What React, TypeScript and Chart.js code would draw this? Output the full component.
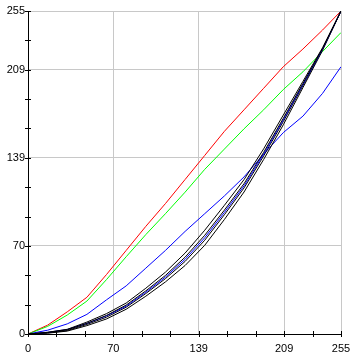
import React, { useEffect, useRef } from "react";
import { Chart, registerables } from "chart.js";

Chart.register(...registerables);

const xs = [0, 16, 32, 48, 64, 80, 96, 112, 128, 144, 160, 176, 192, 208, 224, 240, 255];
const redCurve = [0, 7, 17.5, 29, 47, 66, 85, 103, 122, 141, 160, 177, 194, 211, 225, 240, 255];
const greenCurve = [0, 6, 15, 26, 43, 61, 78.5, 95, 112, 130, 146, 162, 177, 193, 207, 223, 238];
const blueCurve = [0, 3, 8, 15.5, 27, 38, 52, 66, 81, 95, 109, 124, 142, 159, 172, 190, 211];
const black1 = [0, 1.35, 3.7, 9.4, 16.1, 24.45, 36.15, 48.85, 63.9, 81.95, 101.6, 121.9, 146.2, 172.85, 199.45, 226.05, 255];
const black2 = [0, 1.14, 3.28, 8.42, 14.7, 22.84, 34.05, 46.26, 60.68, 77.96, 97.82, 118.68, 143.4, 170.26, 197.84, 225.35, 255];
const blueInner = [0, 1.3, 3.6, 8.4, 14.3, 22, 33, 45, 59, 76, 96, 117, 142, 169, 197, 225, 255];
const black3 = [0, 0.86, 2.72, 7.58, 13.3, 21.16, 31.95, 43.74, 57.32, 74.04, 94.18, 115.32, 140.6, 167.74, 196.16, 224.65, 255];
const black4 = [0, 0.65, 2.3, 6.6, 11.9, 19.55, 29.85, 41.15, 54.1, 70.05, 90.4, 112.1, 137.8, 165.15, 194.55, 223.95, 255];

const AXIS_MAX = 255;
const TICK_COUNT = 11;
const labeledIndexes = [0, 3, 6, 9, 11];

const toPoints = (arr: number[]) => xs.map((x, i) => ({ x, y: arr[i] }));

const buildTicks = (scale: any) => {
  const t = [];
  for (let k = 0; k <= TICK_COUNT; k++) t.push({ value: (k * AXIS_MAX) / TICK_COUNT });
  scale.ticks = t;
};

const tickLabel = (value: any, index: number) =>
  labeledIndexes.includes(index) ? String(Math.round(Number(value))) : "";

const gridColor = (ctx: any) => {
  const idx = ctx.index;
  if (idx === 0) return "rgba(0,0,0,0)";
  return labeledIndexes.includes(idx) ? "#c8c8c8" : "rgba(0,0,0,0)";
};

const tickMarks = {
  id: "tickMarks",
  afterDraw(chart: any) {
    const { ctx, chartArea, scales } = chart;
    ctx.save();
    ctx.strokeStyle = "#000";
    ctx.lineWidth = 1;
    ctx.beginPath();
    scales.x.ticks.forEach((t: any) => {
      const px = Math.round(scales.x.getPixelForValue(t.value)) + 0.5;
      ctx.moveTo(px, chartArea.bottom - 3);
      ctx.lineTo(px, chartArea.bottom + 3);
    });
    scales.y.ticks.forEach((t: any) => {
      const py = Math.round(scales.y.getPixelForValue(t.value)) + 0.5;
      ctx.moveTo(chartArea.left - 3, py);
      ctx.lineTo(chartArea.left + 3, py);
    });
    ctx.stroke();
    ctx.restore();
  },
};

const line = (data: number[], color: string) => ({
  data: toPoints(data),
  borderColor: color,
  backgroundColor: color,
  borderWidth: 1,
  pointRadius: 0,
  tension: 0,
  fill: false,
});

export default function App() {
  const ref = useRef<HTMLCanvasElement>(null);
  useEffect(() => {
    if (!ref.current) return;
    const font = { family: "'Liberation Sans', Arial, sans-serif", size: 11 };
    const chart = new Chart(ref.current, {
      type: "line",
      data: {
        datasets: [
          line(black1, "#000000"),
          line(black2, "#000000"),
          line(blueInner, "#0000ff"),
          line(black3, "#000000"),
          line(black4, "#000000"),
          line(blueCurve, "#0000ff"),
          line(greenCurve, "#00ff00"),
          line(redCurve, "#ff0000"),
        ],
      },
      options: {
        animation: false,
        responsive: false,
        devicePixelRatio: 1,
        layout: { padding: { top: 11, right: 14, left: 0, bottom: 0 } },
        plugins: { legend: { display: false }, tooltip: { enabled: false } },
        scales: {
          x: {
            type: "linear",
            min: 0,
            max: AXIS_MAX,
            afterBuildTicks: buildTicks,
            afterFit: (s: any) => {
              s.height = 20;
              s.paddingLeft = 0;
              s.paddingRight = 0;
            },
            grid: { color: gridColor, drawTicks: false, lineWidth: 1 },
            border: { display: true, color: "#000", width: 1 },
            ticks: { callback: tickLabel, autoSkip: false, maxRotation: 0, padding: 8, color: "#000", font },
          },
          y: {
            type: "linear",
            min: 0,
            max: AXIS_MAX,
            afterBuildTicks: buildTicks,
            afterFit: (s: any) => {
              s.width = 28;
              s.paddingTop = 0;
              s.paddingBottom = 0;
            },
            grid: { color: gridColor, drawTicks: false, lineWidth: 1 },
            border: { display: true, color: "#000", width: 1 },
            ticks: { callback: tickLabel, autoSkip: false, padding: 3, color: "#000", font },
          },
        },
      },
      plugins: [tickMarks],
    });
    return () => chart.destroy();
  }, []);
  return (
    <div style={{ position: "absolute", left: 0, top: 0, width: 355, height: 354, background: "#fff" }}>
      <canvas ref={ref} width={355} height={354} style={{ display: "block" }} />
    </div>
  );
}
